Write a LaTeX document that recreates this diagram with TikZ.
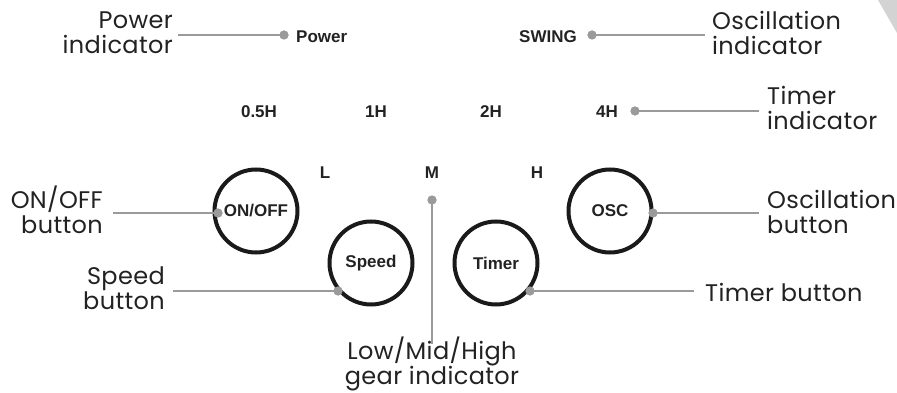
\documentclass[tikz,border=0pt]{standalone}
\usepackage{fontspec}
\newfontfamily\lblfont{Poppins}[LetterSpace=1.5]
\newfontfamily\btnfont{Liberation Sans}
\definecolor{connc}{HTML}{9A9A9A}
\definecolor{txtc}{HTML}{222222}
\definecolor{ringc}{HTML}{1A1A1A}
\definecolor{cornerc}{HTML}{D3D3D3}
\tikzset{
  lbl/.style={font=\lblfont\fontsize{24}{25}\selectfont, text=txtc, inner sep=0pt},
  small/.style={font=\btnfont\bfseries\fontsize{17}{20}\selectfont, text=txtc, inner sep=0pt},
  conn/.style={draw=connc, line width=2.5pt},
  dotc/.style={circle, fill=connc, minimum size=9pt, inner sep=0pt},
  btn/.style={circle, draw=ringc, line width=4pt, minimum size=83pt, inner sep=0pt,
    font=\btnfont\bfseries\fontsize{17}{20}\selectfont, text=txtc}
}
\begin{document}
\begin{tikzpicture}[x=1pt,y=-1pt]
\useasboundingbox (0,0) rectangle (897,393);
\fill[cornerc] (878,0) -- (897,0) -- (897,33) -- cycle;

% top labels
\node[lbl, anchor=east, align=right] (pwrlbl) at (173,33) {Power\\indicator};
\node[small, anchor=west] (pwrtxt) at (296,37) {Power};
\node[small, anchor=east] (swingtxt) at (577,37) {SWING};
\node[lbl, anchor=west, align=left] (osclbl) at (712,33) {Oscillation\\indicator};

% timer row
\node[small] (t05) at (259,112) {0.5H};
\node[small] (t1) at (376,112) {1H};
\node[small] (t2) at (491,112) {2H};
\node[small] (t4) at (607,112) {4H};
\node[lbl, anchor=west, align=left] (timerlbl) at (767,108) {Timer\\indicator};

% gear letters
\node[small] (gL) at (325,173) {L};
\node[small] (gM) at (432,173) {M};
\node[small] (gH) at (537,173) {H};

% buttons
\node[btn] (onoff) at (256,211) {ON/OFF};
\node[btn] (speed) at (371,263) {Speed};
\node[btn] (timer) at (496,263) {Timer};
\node[btn] (osc) at (610,211) {OSC};

% button labels
\node[lbl, anchor=east, align=right] (onofflbl) at (103,210) {ON/OFF\\button};
\node[lbl, anchor=east, align=right] (speedlbl) at (165,288) {Speed\\button};
\node[lbl, anchor=west] (timerbtnlbl) at (705,292) {Timer button};
\node[lbl, anchor=west, align=left] (oscbtnlbl) at (767,212) {Oscillation\\button};
\node[lbl, anchor=north, align=center] (gearlbl) at (432,337) {Low/Mid/High\\gear indicator};

% dots
\node[dotc] (pwrdot) at (284,35) {};
\node[dotc] (swingdot) at (592,35) {};
\node[dotc] (t4dot) at (635,111) {};
\node[dotc] (onoffdot) at (218,213) {};
\node[dotc] (speeddot) at (338,291) {};
\node[dotc] (mdot) at (432,200) {};
\node[dotc] (timerdot) at (530,291) {};
\node[dotc] (oscdot) at (653,213) {};

% connectors
\draw[conn] (pwrdot.center) -- ([xshift=5pt]pwrlbl.east |- pwrdot.center);
\draw[conn] (swingdot.center) -- ([xshift=-7pt]osclbl.west |- swingdot.center);
\draw[conn] (t4dot.center) -- ([xshift=-8pt]timerlbl.west |- t4dot.center);
\draw[conn] (onoffdot.center) -- ([xshift=10pt]onofflbl.east |- onoffdot.center);
\draw[conn] (speeddot.center) -- ([xshift=8pt]speedlbl.east |- speeddot.center);
\draw[conn] (mdot.center) -- ([yshift=-7pt]mdot.center |- gearlbl.north);
\draw[conn] (timerdot.center) -- ([xshift=-11pt]timerbtnlbl.west |- timerdot.center);
\draw[conn] (oscdot.center) -- ([xshift=-8pt]oscbtnlbl.west |- oscdot.center);

% dots on top of connectors
\foreach \d in {pwrdot,swingdot,t4dot,onoffdot,speeddot,mdot,timerdot,oscdot}
  \fill[connc] (\d.center) circle (4.5pt);
\end{tikzpicture}
\end{document}
